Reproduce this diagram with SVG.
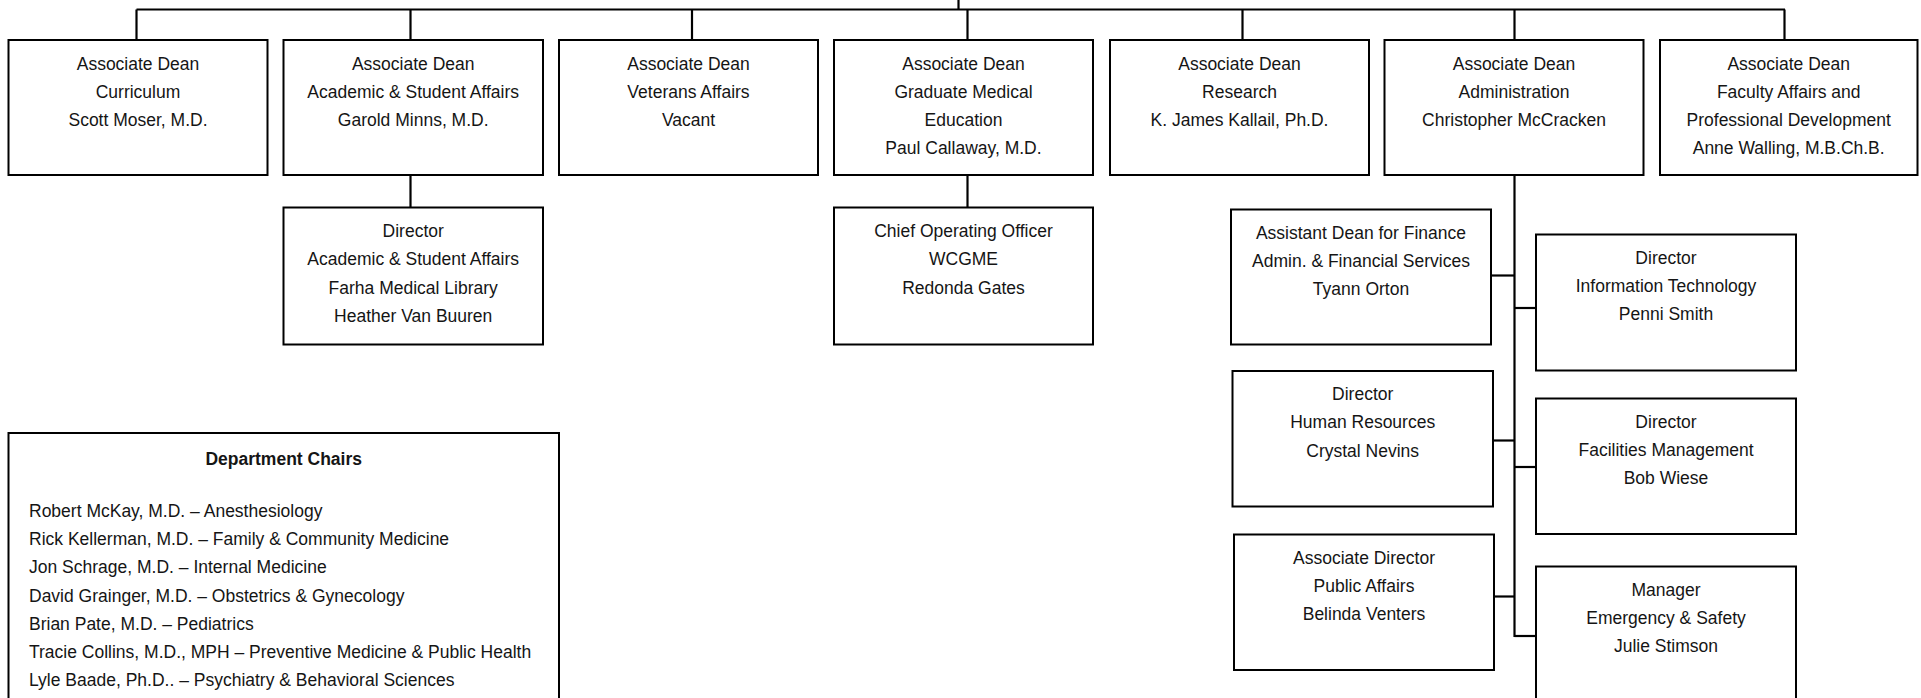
<svg xmlns="http://www.w3.org/2000/svg" width="1921" height="698" viewBox="0 0 1921 698">
<style>
rect.box{fill:#fff;stroke:#000;stroke-width:2}
.conn line,.conn polyline{stroke:#000;stroke-width:2.2;fill:none}
text{font-family:"Liberation Sans",Arial,sans-serif;font-size:17.5px;fill:#151515}
text.c{text-anchor:middle}
text.h{font-weight:bold}
</style>
<rect width="1921" height="698" fill="#fff"/>
<g class="conn" id="connectors">
<line x1="958.5" y1="0" x2="958.5" y2="9.5"/>
<line x1="136.5" y1="9.5" x2="1785" y2="9.5"/>
<line x1="136.5" y1="9.5" x2="136.5" y2="40"/>
<line x1="410.5" y1="9.5" x2="410.5" y2="40"/>
<line x1="692" y1="9.5" x2="692" y2="40"/>
<line x1="967.5" y1="9.5" x2="967.5" y2="40"/>
<line x1="1242.5" y1="9.5" x2="1242.5" y2="40"/>
<line x1="1514.5" y1="9.5" x2="1514.5" y2="40"/>
<line x1="1784.5" y1="9.5" x2="1784.5" y2="40"/>
<line x1="410.5" y1="175" x2="410.5" y2="207.5"/>
<line x1="967.5" y1="175" x2="967.5" y2="207.5"/>
<line x1="1514.5" y1="175" x2="1514.5" y2="637"/>
<line x1="1491" y1="275.5" x2="1514.5" y2="275.5"/>
<line x1="1514.5" y1="308" x2="1536" y2="308"/>
<line x1="1493" y1="440.5" x2="1514.5" y2="440.5"/>
<line x1="1514.5" y1="467" x2="1536" y2="467"/>
<line x1="1494" y1="596.5" x2="1514.5" y2="596.5"/>
<line x1="1514.5" y1="636" x2="1536" y2="636"/>
</g>
<g id="ad-curriculum">
<rect class="box" x="8.5" y="40" width="259" height="135"/>
<text class="c" x="138" y="69.5">Associate Dean</text>
<text class="c" x="138" y="97.8">Curriculum</text>
<text class="c" x="138" y="126.1">Scott Moser, M.D.</text>
</g>
<g id="ad-academic">
<rect class="box" x="283.5" y="40" width="259.5" height="135"/>
<text class="c" x="413.2" y="69.5">Associate Dean</text>
<text class="c" x="413.2" y="97.8">Academic &amp; Student Affairs</text>
<text class="c" x="413.2" y="126.1">Garold Minns, M.D.</text>
</g>
<g id="ad-veterans">
<rect class="box" x="559" y="40" width="259" height="135"/>
<text class="c" x="688.5" y="69.5">Associate Dean</text>
<text class="c" x="688.5" y="97.8">Veterans Affairs</text>
<text class="c" x="688.5" y="126.1">Vacant</text>
</g>
<g id="ad-gme">
<rect class="box" x="834" y="40" width="259" height="135"/>
<text class="c" x="963.5" y="69.5">Associate Dean</text>
<text class="c" x="963.5" y="97.8">Graduate Medical</text>
<text class="c" x="963.5" y="126.1">Education</text>
<text class="c" x="963.5" y="154.4">Paul Callaway, M.D.</text>
</g>
<g id="ad-research">
<rect class="box" x="1110" y="40" width="259" height="135"/>
<text class="c" x="1239.5" y="69.5">Associate Dean</text>
<text class="c" x="1239.5" y="97.8">Research</text>
<text class="c" x="1239.5" y="126.1">K. James Kallail, Ph.D.</text>
</g>
<g id="ad-administration">
<rect class="box" x="1384.5" y="40" width="259" height="135"/>
<text class="c" x="1514" y="69.5">Associate Dean</text>
<text class="c" x="1514" y="97.8">Administration</text>
<text class="c" x="1514" y="126.1">Christopher McCracken</text>
</g>
<g id="ad-faculty">
<rect class="box" x="1660" y="40" width="257.5" height="135"/>
<text class="c" x="1788.7" y="69.5">Associate Dean</text>
<text class="c" x="1788.7" y="97.8">Faculty Affairs and</text>
<text class="c" x="1788.7" y="126.1">Professional Development</text>
<text class="c" x="1788.7" y="154.4">Anne Walling, M.B.Ch.B.</text>
</g>
<g id="dir-academic">
<rect class="box" x="283.5" y="207.5" width="259.5" height="137"/>
<text class="c" x="413.2" y="237">Director</text>
<text class="c" x="413.2" y="265.3">Academic &amp; Student Affairs</text>
<text class="c" x="413.2" y="293.6">Farha Medical Library</text>
<text class="c" x="413.2" y="321.9">Heather Van Buuren</text>
</g>
<g id="coo-wcgme">
<rect class="box" x="834" y="207.5" width="259" height="137"/>
<text class="c" x="963.5" y="237">Chief Operating Officer</text>
<text class="c" x="963.5" y="265.3">WCGME</text>
<text class="c" x="963.5" y="293.6">Redonda Gates</text>
</g>
<g id="finance">
<rect class="box" x="1231" y="209.5" width="260" height="135"/>
<text class="c" x="1361" y="238.5">Assistant Dean for Finance</text>
<text class="c" x="1361" y="266.8">Admin. &amp; Financial Services</text>
<text class="c" x="1361" y="295.1">Tyann Orton</text>
</g>
<g id="it">
<rect class="box" x="1536" y="234.5" width="260" height="136"/>
<text class="c" x="1666" y="263.5">Director</text>
<text class="c" x="1666" y="291.8">Information Technology</text>
<text class="c" x="1666" y="320.1">Penni Smith</text>
</g>
<g id="hr">
<rect class="box" x="1232.5" y="371" width="260.5" height="135.5"/>
<text class="c" x="1362.7" y="400">Director</text>
<text class="c" x="1362.7" y="428.3">Human Resources</text>
<text class="c" x="1362.7" y="456.6">Crystal Nevins</text>
</g>
<g id="facilities">
<rect class="box" x="1536" y="398.5" width="260" height="135.5"/>
<text class="c" x="1666" y="427.5">Director</text>
<text class="c" x="1666" y="455.8">Facilities Management</text>
<text class="c" x="1666" y="484.1">Bob Wiese</text>
</g>
<g id="public-affairs">
<rect class="box" x="1234" y="534.5" width="260" height="135.5"/>
<text class="c" x="1364" y="563.5">Associate Director</text>
<text class="c" x="1364" y="591.8">Public Affairs</text>
<text class="c" x="1364" y="620.1">Belinda Venters</text>
</g>
<g id="emergency">
<rect class="box" x="1536" y="566.5" width="260" height="145"/>
<text class="c" x="1666" y="595.5">Manager</text>
<text class="c" x="1666" y="623.8">Emergency &amp; Safety</text>
<text class="c" x="1666" y="652.1">Julie Stimson</text>
</g>
<g id="department-chairs">
<rect class="box" x="8.5" y="433" width="550.5" height="280"/>
<text class="c h" x="283.7" y="464.5">Department Chairs</text>
<text x="29" y="517">Robert McKay, M.D. – Anesthesiology</text>
<text x="29" y="545.2">Rick Kellerman, M.D. – Family &amp; Community Medicine</text>
<text x="29" y="573.4">Jon Schrage, M.D. – Internal Medicine</text>
<text x="29" y="601.6">David Grainger, M.D. – Obstetrics &amp; Gynecology</text>
<text x="29" y="629.8">Brian Pate, M.D. – Pediatrics</text>
<text x="29" y="658">Tracie Collins, M.D., MPH – Preventive Medicine &amp; Public Health</text>
<text x="29" y="686.2">Lyle Baade, Ph.D.. – Psychiatry &amp; Behavioral Sciences</text>
</g>
</svg>
